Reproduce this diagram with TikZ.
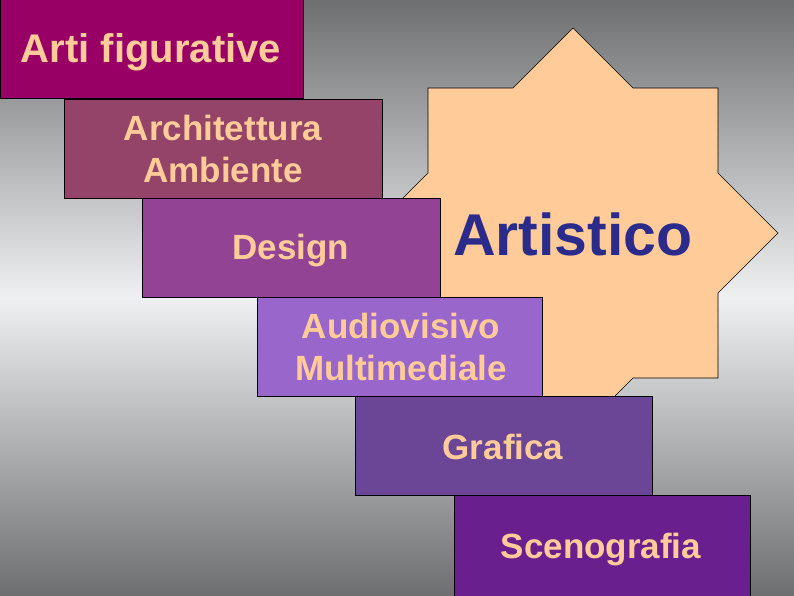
\documentclass[tikz,border=0pt]{standalone}
\usepackage{fontspec}
\setmainfont{Liberation Sans}
\definecolor{bgdark}{HTML}{6E6F71}
\definecolor{bglight}{HTML}{EEF0F2}
\definecolor{peach}{HTML}{FFCC99}
\definecolor{navy}{HTML}{2B2B8C}
\definecolor{cA}{HTML}{990066}
\definecolor{cB}{HTML}{934468}
\definecolor{cC}{HTML}{934393}
\definecolor{cD}{HTML}{9966CC}
\definecolor{cE}{HTML}{6B4596}
\definecolor{cF}{HTML}{6A1F8F}
\begin{document}
\begin{tikzpicture}[x=1pt,y=-1pt,
  box/.style={draw=black,line width=0.8pt,rectangle,inner sep=0pt,
    text=peach,font=\bfseries\fontsize{35}{42}\selectfont,align=center},
  lbl/.style={text=peach,font=\bfseries\fontsize{35}{42}\selectfont,align=center},
  ]
\useasboundingbox (0,0) rectangle (794,595);
\clip (0,0) rectangle (794,595);
\shade[top color=bgdark,bottom color=bgdark,middle color=bglight] (0,0) rectangle (794,595);
% star
\draw[fill=peach,draw=black,line width=0.6pt]
  (573,28) -- (633,88) -- (718,88) -- (718,173) -- (778,233) -- (718,293) -- (718,378)
  -- (633,378) -- (573,438) -- (513,378) -- (428,378) -- (428,293) -- (368,233)
  -- (428,173) -- (428,88) -- (513,88) -- cycle;
\node[text=navy,font=\bfseries\fontsize{59}{66}\selectfont] (art) at (573,234) {Artistico};
% boxes
\node[box,fill=cA,minimum width=303pt,minimum height=108pt] (b1) at (151.5,44) {};
\node[lbl,font=\bfseries\fontsize{40}{46}\selectfont] (t1) at (151,52) {Arti figurative};
\node[box,fill=cB,minimum width=318pt,minimum height=99pt] (b2) at (223,148.5) {};
\node[lbl] (t2) at (223,149) {Architettura\\Ambiente};
\node[box,fill=cC,minimum width=298pt,minimum height=99pt] (b3) at (291,247.5) {};
\node[lbl] (t3) at (291,251) {Design};
\node[box,fill=cD,minimum width=285pt,minimum height=99pt] (b4) at (400,346.5) {};
\node[lbl] (t4) at (401,347) {Audiovisivo\\Multimediale};
\node[box,fill=cE,minimum width=297pt,minimum height=99pt] (b5) at (503.5,445.5) {};
\node[lbl] (t5) at (503,447) {Grafica};
\node[box,fill=cF,minimum width=296pt,minimum height=110pt] (b6) at (602,550) {};
\node[lbl] (t6) at (601,550) {Scenografia};
\end{tikzpicture}
\end{document}
